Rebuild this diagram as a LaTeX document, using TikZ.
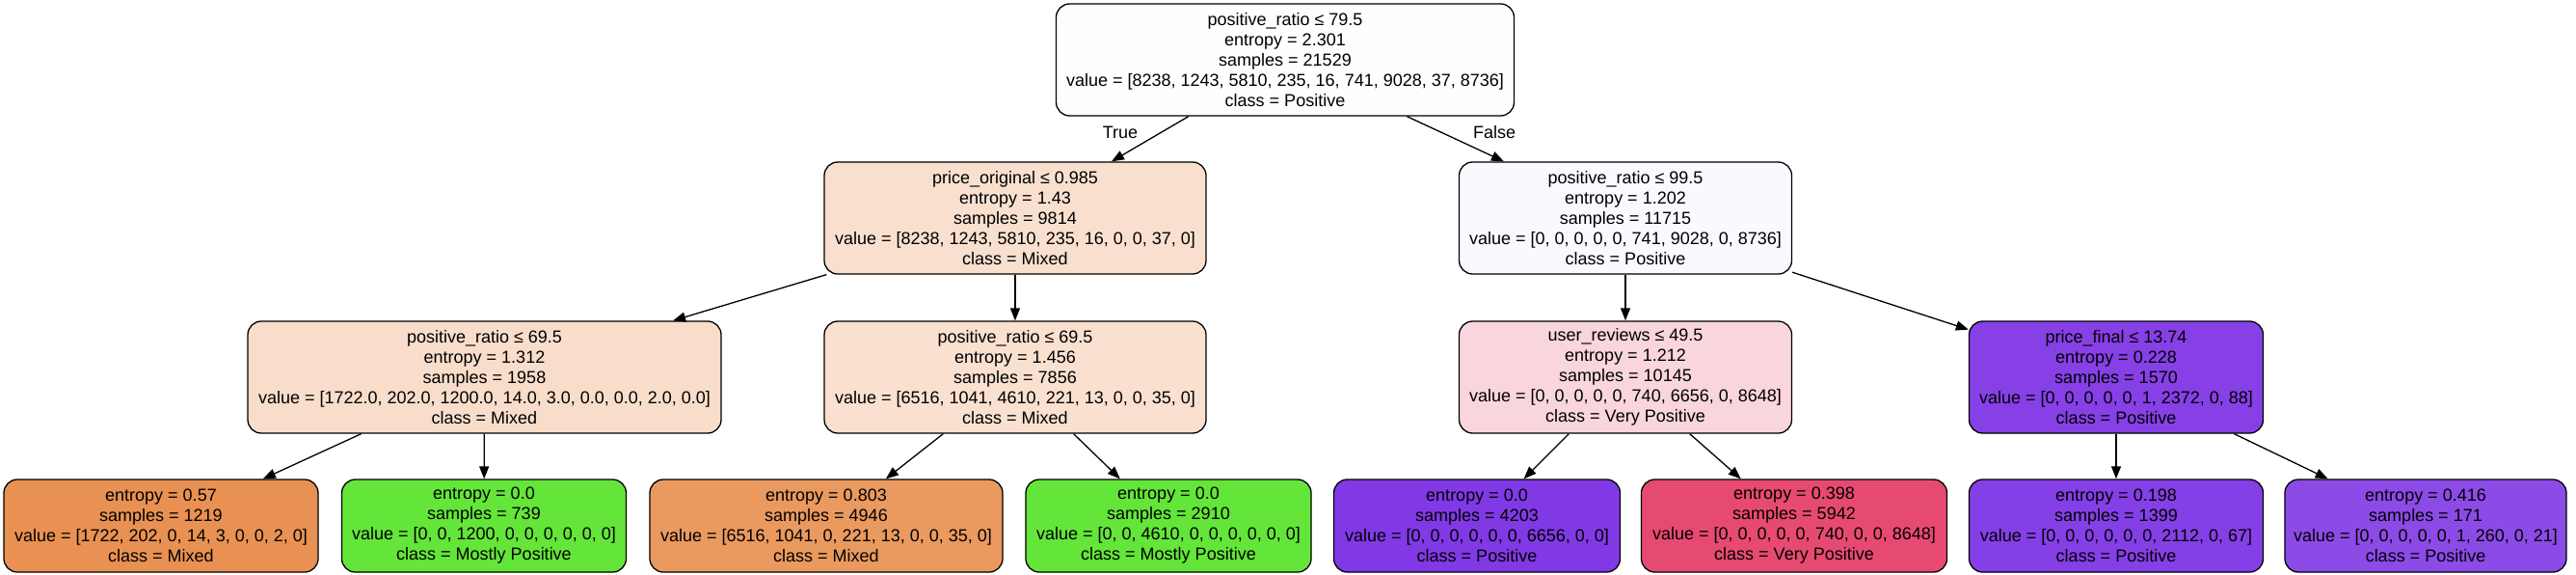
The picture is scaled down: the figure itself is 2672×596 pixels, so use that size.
\documentclass[tikz,border=0pt]{standalone}
\usepackage{fontspec}
\setmainfont{Liberation Sans}
\usetikzlibrary{arrows.meta}
\definecolor{cRoot}{RGB}{254,253,255}
\definecolor{cLOneL}{RGB}{249,224,206}
\definecolor{cLOneR}{RGB}{251,249,254}
\definecolor{cNOne}{RGB}{248,221,202}
\definecolor{cNTwo}{RGB}{249,224,207}
\definecolor{cNThree}{RGB}{249,213,222}
\definecolor{cNFour}{RGB}{134,64,230}
\definecolor{cLfOne}{RGB}{232,145,82}
\definecolor{cGreen}{RGB}{100,229,57}
\definecolor{cLfThree}{RGB}{234,153,95}
\definecolor{cPurple}{RGB}{129,57,229}
\definecolor{cLfSix}{RGB}{231,74,113}
\definecolor{cLfSeven}{RGB}{133,63,230}
\definecolor{cLfEight}{RGB}{140,74,231}
\begin{document}
\begin{tikzpicture}[x=1pt,y=-1pt,
  tn/.style={draw=black, line width=1.3pt, rounded corners=14pt, align=center,
    font=\fontsize{18}{21}\selectfont, inner sep=0pt, minimum height=116pt},
  leafbox/.style={tn, minimum height=96pt},
  edgeline/.style={draw=black, line width=1.3pt, -{Triangle[length=13pt,width=10pt]}},
  lbl/.style={font=\fontsize{18}{21}\selectfont, inner sep=0pt}]
\useasboundingbox[fill=white] (0,0) rectangle (2672,596);

\node[tn, fill=cRoot, minimum width=475pt] (root) at (1333,62)
 {positive\_ratio ≤ 79.5\\entropy = 2.301\\samples = 21529\\value = [8238, 1243, 5810, 235, 16, 741, 9028, 37, 8736]\\class = Positive};

\node[tn, fill=cLOneL, minimum width=396pt] (a) at (1053,226)
 {price\_original ≤ 0.985\\entropy = 1.43\\samples = 9814\\value = [8238, 1243, 5810, 235, 16, 0, 0, 37, 0]\\class = Mixed};
\node[tn, fill=cLOneR, minimum width=345pt] (b) at (1686,226)
 {positive\_ratio ≤ 99.5\\entropy = 1.202\\samples = 11715\\value = [0, 0, 0, 0, 0, 741, 9028, 0, 8736]\\class = Positive};

\node[tn, fill=cNOne, minimum width=491pt] (c) at (502.5,391)
 {positive\_ratio ≤ 69.5\\entropy = 1.312\\samples = 1958\\value = [1722.0, 202.0, 1200.0, 14.0, 3.0, 0.0, 0.0, 2.0, 0.0]\\class = Mixed};
\node[tn, fill=cNTwo, minimum width=396pt] (d) at (1053,391)
 {positive\_ratio ≤ 69.5\\entropy = 1.456\\samples = 7856\\value = [6516, 1041, 4610, 221, 13, 0, 0, 35, 0]\\class = Mixed};
\node[tn, fill=cNThree, minimum width=345pt] (e) at (1686,391)
 {user\_reviews ≤ 49.5\\entropy = 1.212\\samples = 10145\\value = [0, 0, 0, 0, 0, 740, 6656, 0, 8648]\\class = Very Positive};
\node[tn, fill=cNFour, minimum width=305pt] (f) at (2195,391)
 {price\_final ≤ 13.74\\entropy = 0.228\\samples = 1570\\value = [0, 0, 0, 0, 0, 1, 2372, 0, 88]\\class = Positive};

\node[leafbox, fill=cLfOne, minimum width=326pt] (l1) at (167,545)
 {entropy = 0.57\\samples = 1219\\value = [1722, 202, 0, 14, 3, 0, 0, 2, 0]\\class = Mixed};
\node[leafbox, fill=cGreen, minimum width=295pt] (l2) at (502,545)
 {entropy = 0.0\\samples = 739\\value = [0, 0, 1200, 0, 0, 0, 0, 0, 0]\\class = Mostly Positive};
\node[leafbox, fill=cLfThree, minimum width=366pt] (l3) at (857,545)
 {entropy = 0.803\\samples = 4946\\value = [6516, 1041, 0, 221, 13, 0, 0, 35, 0]\\class = Mixed};
\node[leafbox, fill=cGreen, minimum width=296pt] (l4) at (1212,545)
 {entropy = 0.0\\samples = 2910\\value = [0, 0, 4610, 0, 0, 0, 0, 0, 0]\\class = Mostly Positive};
\node[leafbox, fill=cPurple, minimum width=297pt] (l5) at (1532,545)
 {entropy = 0.0\\samples = 4203\\value = [0, 0, 0, 0, 0, 0, 6656, 0, 0]\\class = Positive};
\node[leafbox, fill=cLfSix, minimum width=317pt] (l6) at (1861,545)
 {entropy = 0.398\\samples = 5942\\value = [0, 0, 0, 0, 0, 740, 0, 0, 8648]\\class = Very Positive};
\node[leafbox, fill=cLfSeven, minimum width=305pt] (l7) at (2195,545)
 {entropy = 0.198\\samples = 1399\\value = [0, 0, 0, 0, 0, 0, 2112, 0, 67]\\class = Positive};
\node[leafbox, fill=cLfEight, minimum width=292pt] (l8) at (2516,545)
 {entropy = 0.416\\samples = 171\\value = [0, 0, 0, 0, 0, 1, 260, 0, 21]\\class = Positive};

\draw[edgeline] (root) -- (a);
\draw[edgeline] (root) -- (b);
\draw[edgeline] (a) -- (c);
\draw[edgeline] (a) -- (d);
\draw[edgeline] (b) -- (e);
\draw[edgeline] (b) -- (f);
\draw[edgeline] (c) -- (l1);
\draw[edgeline] (c) -- (l2);
\draw[edgeline] (d) -- (l3);
\draw[edgeline] (d) -- (l4);
\draw[edgeline] (e) -- (l5);
\draw[edgeline] (e) -- (l6);
\draw[edgeline] (f) -- (l7);
\draw[edgeline] (f) -- (l8);

\node[lbl] (tlabel) at (1162,137) {True};
\node[lbl] (flabel) at (1550,137) {False};
\end{tikzpicture}
\end{document}
